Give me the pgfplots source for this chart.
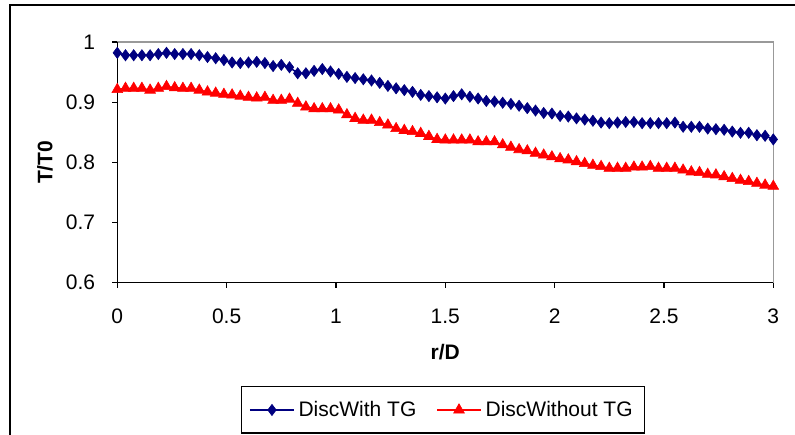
\documentclass[border=0pt]{standalone}
\usepackage{pgfplots}
\pgfplotsset{compat=1.18}
\usepackage{pgfplotstable}
\usepackage{fontspec}
\setmainfont{Liberation Sans}
\definecolor{navyb}{RGB}{0,0,128}
\definecolor{redt}{RGB}{255,0,0}
\pgfplotstableread{
x with without
0      0.982 0.921
0.0375 0.978 0.923
0.075  0.978 0.923
0.1125 0.978 0.923
0.15   0.978 0.920
0.1875 0.980 0.923
0.225  0.982 0.926
0.2625 0.980 0.924
0.3    0.980 0.923
0.3375 0.980 0.923
0.375  0.978 0.920
0.4125 0.975 0.917
0.45   0.973 0.915
0.4875 0.970 0.913
0.525  0.966 0.912
0.5625 0.965 0.910
0.6    0.966 0.908
0.6375 0.967 0.907
0.675  0.965 0.908
0.7125 0.960 0.903
0.75   0.962 0.903
0.7875 0.958 0.905
0.825  0.948 0.898
0.8625 0.948 0.892
0.9    0.952 0.889
0.9375 0.955 0.889
0.975  0.951 0.889
1.0125 0.947 0.887
1.05   0.942 0.879
1.0875 0.940 0.873
1.125  0.938 0.870
1.1625 0.936 0.870
1.2    0.932 0.866
1.2375 0.927 0.862
1.275  0.923 0.856
1.3125 0.920 0.853
1.35   0.917 0.851
1.3875 0.912 0.848
1.425  0.910 0.843
1.4625 0.908 0.838
1.5    0.906 0.837
1.5375 0.910 0.837
1.575  0.913 0.837
1.6125 0.909 0.837
1.65   0.906 0.834
1.6875 0.902 0.834
1.725  0.901 0.834
1.7625 0.899 0.829
1.8    0.897 0.825
1.8375 0.894 0.821
1.875  0.890 0.819
1.9125 0.886 0.815
1.95   0.882 0.812
1.9875 0.881 0.809
2.025  0.877 0.806
2.0625 0.876 0.804
2.1    0.873 0.801
2.1375 0.871 0.798
2.175  0.869 0.795
2.2125 0.866 0.793
2.25   0.865 0.790
2.2875 0.866 0.790
2.325  0.867 0.790
2.3625 0.867 0.792
2.4    0.865 0.792
2.4375 0.865 0.793
2.475  0.865 0.790
2.5125 0.865 0.790
2.55   0.866 0.790
2.5875 0.859 0.787
2.625  0.859 0.784
2.6625 0.859 0.783
2.7    0.856 0.780
2.7375 0.855 0.779
2.775  0.854 0.776
2.8125 0.851 0.773
2.85   0.849 0.770
2.8875 0.849 0.768
2.925  0.845 0.765
2.9625 0.844 0.762
3.0    0.838 0.760
}\datatable
\begin{document}
\begin{tikzpicture}
\useasboundingbox (-58.65pt,-75.75pt) rectangle (338.85pt,141.25pt);
\draw[black, line width=1pt] (400pt,138.75pt) -- (-53.65pt,138.75pt) -- (-53.65pt,-120pt);
\begin{axis}[
  at={(0,0)}, anchor=south west,
  scale only axis,
  width=328pt, height=120.25pt,
  xmin=0, xmax=3, ymin=0.6, ymax=1,
  xtick={0,0.5,1,1.5,2,2.5,3},
  ytick={0.6,0.7,0.8,0.9,1},
  tick pos=left,
  tick align=outside,
  major tick length=2.6pt,
  tick style={black, line width=0.6pt},
  axis line style={draw=gray!80, line width=0.6pt},
  /pgf/number format/assume math mode=true,
  tick label style={font=\fontsize{10.5}{12}\selectfont},
  xticklabel style={yshift=-7pt},
  yticklabel style={xshift=-5pt},
  xlabel={r/D}, ylabel={T/T0},
  every axis x label/.style={at={(axis description cs:0.5,-0.289)}, anchor=center, font=\fontsize{10.5}{12}\selectfont\bfseries},
  every axis y label/.style={at={(axis description cs:-0.1102,0.5)}, anchor=center, rotate=90, font=\fontsize{10.5}{12}\selectfont\bfseries},
  legend columns=2,
  legend style={at={(axis description cs:0.4965,-0.53)}, anchor=center, draw=black, line width=0.6pt,
    font=\fontsize{10.5}{12}\selectfont, /tikz/every even column/.append style={column sep=8pt},
    inner xsep=4pt, inner ysep=5pt},
  legend image code/.code={\draw[mark repeat=2, mark phase=2] plot coordinates {(0pt,0pt) (11pt,0pt) (22pt,0pt)};},
  legend image post style={line width=0.6pt},
  clip=false,
]
\draw[black, line width=0.6pt] (rel axis cs:0,1) -- (rel axis cs:0,0) -- (rel axis cs:1,0);
\addplot[color=navyb, line width=0.75pt, mark=diamond*, mark size=2.8pt, mark options={fill=navyb, draw=navyb, line width=0.3pt}] table[x=x, y=with] {\datatable};
\addlegendentry{DiscWith TG}
\addplot[color=redt, line width=0.75pt, mark=triangle*, mark size=3.1pt, mark options={fill=redt, draw=redt, line width=0.3pt}] table[x=x, y=without] {\datatable};
\addlegendentry{DiscWithout TG}
\end{axis}
\end{tikzpicture}
\end{document}
